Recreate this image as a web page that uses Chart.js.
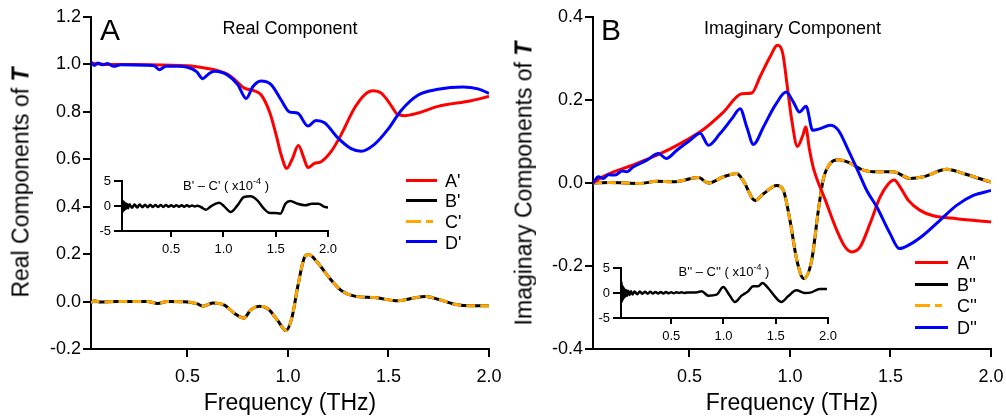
<!DOCTYPE html>
<html><head><meta charset="utf-8">
<script src="https://cdn.jsdelivr.net/npm/chart.js@4/dist/chart.umd.min.js"></script>
<style>
html,body{margin:0;padding:0;background:#fff;width:1006px;height:420px;overflow:hidden;font-family:"Liberation Sans",Arial,Helvetica,sans-serif;}
canvas{position:absolute;}
.t{position:absolute;white-space:nowrap;line-height:1;color:#000;}
.lg{position:absolute;height:3px;}
</style></head><body>
<canvas id="cA"></canvas>
<canvas id="cB"></canvas>
<canvas id="cIA"></canvas>
<canvas id="cIB"></canvas>
<script>
// ---------- axis ranges / tick labels ----------
const freqMin = 0.02, freqMax = 2.0;
const freqTicks = [0.5, 1.0, 1.5, 2.0];
const realTicks = [-0.2, 0.0, 0.2, 0.4, 0.6, 0.8, 1.0, 1.2];
const imagTicks = [-0.4, -0.2, 0.0, 0.2, 0.4];
const insetTicks = [-5, 0, 5];

// ---------- Panel A : real components [THz, value] ----------
const realA = [[0.02,1.005],[0.1,1.0],[0.3,0.999],[0.5,0.994],[0.6,0.983],[0.634,0.978],[0.7,0.958],[0.73,0.94],[0.783,0.90],[0.833,0.889],[0.866,0.872],[0.908,0.80],[0.941,0.703],[0.966,0.619],[0.994,0.562],[1.019,0.597],[1.052,0.658],[1.079,0.605],[1.099,0.565],[1.132,0.583],[1.165,0.590],[1.215,0.633],[1.264,0.703],[1.331,0.816],[1.381,0.872],[1.422,0.889],[1.464,0.879],[1.505,0.837],[1.547,0.788],[1.58,0.784],[1.646,0.795],[1.746,0.823],[1.911,0.847],[2.0,0.865]];
const realD = [[0.02,1.01],[0.037,0.996],[0.053,1.006],[0.078,0.999],[0.103,1.004],[0.133,0.992],[0.169,0.999],[0.3,0.997],[0.335,0.994],[0.36,0.978],[0.393,0.992],[0.451,0.992],[0.5,0.988],[0.545,0.97],[0.576,0.94],[0.605,0.96],[0.634,0.971],[0.70,0.955],[0.75,0.915],[0.792,0.856],[0.825,0.906],[0.866,0.93],[0.916,0.915],[0.966,0.85],[1.007,0.80],[1.049,0.794],[1.099,0.74],[1.14,0.764],[1.182,0.754],[1.248,0.69],[1.314,0.645],[1.364,0.634],[1.43,0.663],[1.497,0.726],[1.563,0.806],[1.646,0.87],[1.746,0.895],[1.87,0.905],[1.945,0.897],[2.0,0.878]];
const realB = [[0.02,-0.005],[0.04,0.003],[0.06,-0.002],[0.15,0.0],[0.3,0.0],[0.352,-0.008],[0.4,0.0],[0.5,-0.002],[0.55,-0.01],[0.576,-0.02],[0.626,-0.006],[0.686,-0.016],[0.734,-0.05],[0.78,-0.07],[0.816,-0.034],[0.858,-0.02],[0.9,-0.03],[0.949,-0.08],[0.99,-0.122],[1.019,-0.07],[1.049,0.065],[1.082,0.186],[1.102,0.198],[1.148,0.164],[1.198,0.108],[1.264,0.047],[1.331,0.023],[1.43,0.017],[1.547,0.003],[1.613,0.013],[1.687,0.021],[1.746,0.01],[1.829,-0.011],[1.911,-0.018],[2.0,-0.018]];
const realC = realB.map(p => [p[0], p[1]]); // C' coincides with B' on this scale
const realDiffBC = [[0.03,0],[0.035,1.0],[0.04,-1.1],[0.046,0.9],[0.052,-0.8],[0.058,0.6],[0.065,-0.6],[0.075,0.45],[0.088,-0.45],[0.1,0.35],[0.125,-0.35],[0.15,0.3],[0.175,-0.3],[0.2,0.3],[0.225,-0.25],[0.25,0.25],[0.275,-0.25],[0.3,0.25],[0.325,-0.2],[0.35,0.2],[0.375,-0.2],[0.4,0.2],[0.425,-0.2],[0.45,0.2],[0.475,-0.15],[0.5,0.15],[0.525,-0.15],[0.55,0.15],[0.575,-0.15],[0.6,0.15],[0.625,-0.15],[0.65,0.15],[0.675,-0.1],[0.7,0.1],[0.725,-0.1],[0.75,0.05],[0.785,-0.2],[0.833,-0.73],[0.88,-0.07],[0.96,0.67],[1.007,-0.07],[1.07,-1.2],[1.134,0.13],[1.197,1.8],[1.26,1.93],[1.324,1.13],[1.387,-0.53],[1.434,-1.33],[1.498,-1.4],[1.545,-1.53],[1.593,0.47],[1.64,1.0],[1.704,0.47],[1.782,0.13],[1.846,0.47],[1.91,0.47],[1.956,-0.07],[2.0,-0.33]];

// ---------- Panel B : imaginary components [THz, value] ----------
const imagA = [[0.02,0.0],[0.05,0.01],[0.105,0.023],[0.205,0.041],[0.338,0.067],[0.454,0.095],[0.569,0.129],[0.669,0.171],[0.76,0.215],[0.81,0.217],[0.851,0.256],[0.901,0.304],[0.937,0.332],[0.964,0.312],[0.987,0.231],[1.009,0.151],[1.037,0.088],[1.064,0.115],[1.078,0.135],[1.097,0.08],[1.117,0.035],[1.175,-0.04],[1.233,-0.114],[1.274,-0.154],[1.307,-0.166],[1.349,-0.154],[1.398,-0.098],[1.448,-0.034],[1.49,-0.002],[1.518,0.007],[1.548,-0.01],[1.589,-0.042],[1.647,-0.066],[1.713,-0.079],[1.829,-0.086],[2.0,-0.094]];
const imagD = [[0.02,0.0],[0.047,0.015],[0.072,0.011],[0.097,0.02],[0.13,0.019],[0.164,0.029],[0.188,0.027],[0.221,0.039],[0.288,0.055],[0.346,0.071],[0.384,0.059],[0.437,0.079],[0.503,0.103],[0.553,0.12],[0.594,0.091],[0.652,0.119],[0.711,0.155],[0.752,0.179],[0.785,0.135],[0.818,0.093],[0.868,0.135],[0.926,0.187],[0.981,0.219],[1.017,0.195],[1.047,0.171],[1.08,0.185],[1.113,0.127],[1.15,0.131],[1.2,0.139],[1.241,0.127],[1.29,0.079],[1.34,0.027],[1.382,-0.018],[1.432,-0.058],[1.498,-0.122],[1.544,-0.158],[1.597,-0.148],[1.663,-0.126],[1.746,-0.09],[1.829,-0.054],[1.912,-0.03],[2.0,-0.018]];
const imagB = [[0.02,0.0],[0.105,0.001],[0.255,-0.001],[0.338,0.004],[0.42,0.003],[0.545,0.013],[0.594,0.0],[0.669,0.015],[0.735,0.023],[0.768,0.005],[0.826,-0.042],[0.868,-0.026],[0.934,-0.006],[0.967,-0.018],[1.0,-0.09],[1.034,-0.186],[1.068,-0.23],[1.108,-0.186],[1.141,-0.066],[1.166,0.01],[1.2,0.047],[1.241,0.056],[1.299,0.048],[1.365,0.031],[1.432,0.027],[1.514,0.027],[1.597,0.011],[1.663,0.015],[1.78,0.033],[1.862,0.023],[2.0,0.002]];
const imagC = imagB.map(p => [p[0], p[1]]); // C'' coincides with B''
const imagDiffBC = [[0.02,0],[0.025,2.3],[0.031,-1.7],[0.037,1.4],[0.043,-1.2],[0.05,0.9],[0.058,-0.8],[0.067,0.6],[0.077,-0.55],[0.088,0.45],[0.1,-0.4],[0.115,0.35],[0.13,-0.3],[0.15,0.3],[0.175,-0.25],[0.2,0.3],[0.225,-0.15],[0.25,0.25],[0.275,-0.15],[0.3,0.25],[0.325,-0.1],[0.35,0.2],[0.375,-0.1],[0.4,0.2],[0.425,-0.1],[0.45,0.2],[0.475,-0.05],[0.5,0.15],[0.525,-0.05],[0.55,0.15],[0.575,0.0],[0.6,0.15],[0.625,0.0],[0.65,0.1],[0.7,0.1],[0.75,0.15],[0.792,0.33],[0.855,-0.53],[0.935,-0.33],[0.998,1.2],[1.055,-0.33],[1.11,-1.8],[1.173,-0.53],[1.236,0.33],[1.284,1.33],[1.332,1.33],[1.373,2.0],[1.427,1.0],[1.491,-0.67],[1.555,-1.8],[1.618,-0.67],[1.698,0.53],[1.777,0.0],[1.841,0.13],[1.92,0.8],[1.99,0.8]];

// ---------- styling ----------
const RED = '#ff0000', BLUE = '#0000ff', BLACK = '#000000', ORANGE = '#ffa600';
Chart.defaults.font.family = '"Liberation Sans", Arial, Helvetica, sans-serif';
Chart.defaults.color = '#000';

const pts = arr => arr.map(p => ({x: p[0], y: p[1]}));
function line(arr, color, w, dash) {
  return {data: pts(arr), borderColor: color, borderWidth: w, borderDash: dash || [],
          pointRadius: 0, fill: false, tension: 0.4, cubicInterpolationMode: 'monotone',
          borderCapStyle: 'butt', borderJoinStyle: 'round'};
}

function fixedChart(id, box, area, xc, yc, datasets) {
  const cv = document.getElementById(id);
  cv.width = box.w; cv.height = box.h;
  cv.style.left = box.l + 'px'; cv.style.top = box.t + 'px';
  cv.style.width = box.w + 'px'; cv.style.height = box.h + 'px';
  const yW = area.l - box.l, xH = box.t + box.h - area.b;
  const padTop = area.t - box.t, padRight = box.l + box.w - area.r;
  return new Chart(cv, {
    type: 'line',
    data: {datasets},
    options: {
      responsive: false, animation: false, devicePixelRatio: 1,
      layout: {autoPadding: false, padding: {left: 0, top: padTop, right: padRight, bottom: 0}},
      plugins: {legend: {display: false}, tooltip: {enabled: false}},
      scales: {
        x: {type: 'linear', position: 'bottom', min: xc.min, max: xc.max,
            afterBuildTicks: s => { s.ticks = xc.ticks.map(v => ({value: v})); },
            afterFit: s => { s.height = xH; s.paddingLeft = 0; s.paddingRight = 0; },
            grid: {drawOnChartArea: false, drawTicks: true, tickLength: xc.tl, color: '#000', lineWidth: 2},
            border: {display: true, color: '#000', width: 2},
            ticks: {color: '#000', font: {size: xc.fs}, padding: xc.pad, maxRotation: 0, autoSkip: false,
                    callback: v => v.toFixed(1)}},
        y: {type: 'linear', position: 'left', min: yc.min, max: yc.max,
            afterBuildTicks: s => { s.ticks = yc.ticks.map(v => ({value: v})); },
            afterFit: s => { s.width = yW; s.paddingTop = 0; s.paddingBottom = 0; },
            grid: {drawOnChartArea: false, drawTicks: true, tickLength: yc.tl, color: '#000', lineWidth: 2},
            border: {display: true, color: '#000', width: 2},
            ticks: {color: '#000', font: {size: yc.fs}, padding: yc.pad, autoSkip: false,
                    callback: v => yc.fmt(v)}}
      }
    }
  });
}

const f1 = v => v.toFixed(1);
const f0 = v => String(v);

// Panel A
fixedChart('cA', {l: 0, t: 0, w: 503, h: 420}, {l: 91, t: 17, r: 489, b: 349},
  {min: freqMin, max: freqMax, ticks: freqTicks, tl: 8, fs: 18, pad: 9},
  {min: -0.2, max: 1.2, ticks: realTicks, tl: 8, fs: 18, pad: 2, fmt: f1},
  [line(realD, BLUE, 3), line(realA, RED, 3), line(realC, ORANGE, 3, [9, 5]), line(realB, BLACK, 3)]);

// Panel B
fixedChart('cB', {l: 503, t: 0, w: 503, h: 420}, {l: 593, t: 17, r: 991, b: 349},
  {min: freqMin, max: freqMax, ticks: freqTicks, tl: 8, fs: 18, pad: 9},
  {min: -0.4, max: 0.4, ticks: imagTicks, tl: 8, fs: 18, pad: 2, fmt: f1},
  [line(imagD, BLUE, 3), line(imagA, RED, 3), line(imagC, ORANGE, 3, [9, 5]), line(imagB, BLACK, 3)]);

// Inset A
fixedChart('cIA', {l: 95, t: 172, w: 250, h: 90}, {l: 122, t: 181, r: 328, b: 231},
  {min: 0.03, max: freqMax, ticks: freqTicks, tl: 6, fs: 13, pad: 5},
  {min: -5, max: 5, ticks: insetTicks, tl: 8, fs: 13, pad: 3, fmt: f0},
  [line(realDiffBC, BLACK, 2.5)]);

// Inset B
fixedChart('cIB', {l: 594, t: 259, w: 250, h: 90}, {l: 621, t: 268, r: 828, b: 318},
  {min: freqMin, max: freqMax, ticks: freqTicks, tl: 6, fs: 13, pad: 5},
  {min: -5, max: 5, ticks: insetTicks, tl: 8, fs: 13, pad: 3, fmt: f0},
  [line(imagDiffBC, BLACK, 2.5)]);

// ---------- text ----------
function label(html, x, baseY, size, align) {
  const d = document.createElement('div');
  d.className = 't';
  d.innerHTML = html;
  d.style.fontSize = size + 'px';
  d.style.top = (baseY - 0.8465 * size) + 'px';
  if (align === 'center') { d.style.left = (x - 300) + 'px'; d.style.width = '600px'; d.style.textAlign = 'center'; }
  else d.style.left = x + 'px';
  document.body.appendChild(d);
}
function vlabel(html, baseX, cy, size) {
  const d = document.createElement('div');
  d.className = 't';
  d.innerHTML = html;
  d.style.fontSize = size + 'px';
  d.style.width = '600px'; d.style.height = size + 'px'; d.style.textAlign = 'center';
  const cx = baseX - 0.3465 * size;
  d.style.left = (cx - 300) + 'px'; d.style.top = (cy - size / 2) + 'px';
  d.style.transform = 'rotate(-90deg)';
  document.body.appendChild(d);
}
function legendLine(x, y, w, bg) {
  const d = document.createElement('div');
  d.className = 'lg';
  d.style.left = x + 'px'; d.style.top = (y - 1.5) + 'px'; d.style.width = w + 'px';
  d.style.background = bg;
  document.body.appendChild(d);
}
const dashBg = 'linear-gradient(to right,' + ORANGE + ' 0 15px,transparent 15px 20px,' + ORANGE + ' 20px 27px,transparent 27px)';

label('A', 100, 40, 30);
label('B', 601, 40, 30);
label('Real Component', 290, 34.5, 18, 'center');
label('Imaginary Component', 792.5, 34.5, 18, 'center');
vlabel('Real Components of <b><i>T</i></b>', 29, 182, 23);
vlabel('Imaginary Components of <b><i>T</i></b>', 532, 183.5, 23);
label('Frequency (THz)', 290, 410, 23, 'center');
label('Frequency (THz)', 792, 410, 23, 'center');
const sup = '<span style="font-size:9px;position:relative;top:-6px">-4</span>';
label("B' &ndash; C' ( x10" + sup + " )", 226, 190, 13, 'center');
label("B'' &ndash; C'' ( x10" + sup + " )", 724, 276, 13, 'center');

const legA = [["A'", RED], ["B'", BLACK], ["C'", 'dash'], ["D'", BLUE]];
const legAy = [180, 200.6, 221.2, 241.8];
legA.forEach((e, i) => {
  legendLine(406, legAy[i], 31, e[1] === 'dash' ? dashBg : e[1]);
  label(e[0], 445, legAy[i] + 7, 18);
});
const legB = [["A''", RED], ["B''", BLACK], ["C''", 'dash'], ["D''", BLUE]];
const legBy = [262.7, 284.2, 305.7, 327.2];
legB.forEach((e, i) => {
  legendLine(915, legBy[i], 33, e[1] === 'dash' ? dashBg : e[1]);
  label(e[0], 957, legBy[i] + 7, 18);
});
</script>
</body></html>
